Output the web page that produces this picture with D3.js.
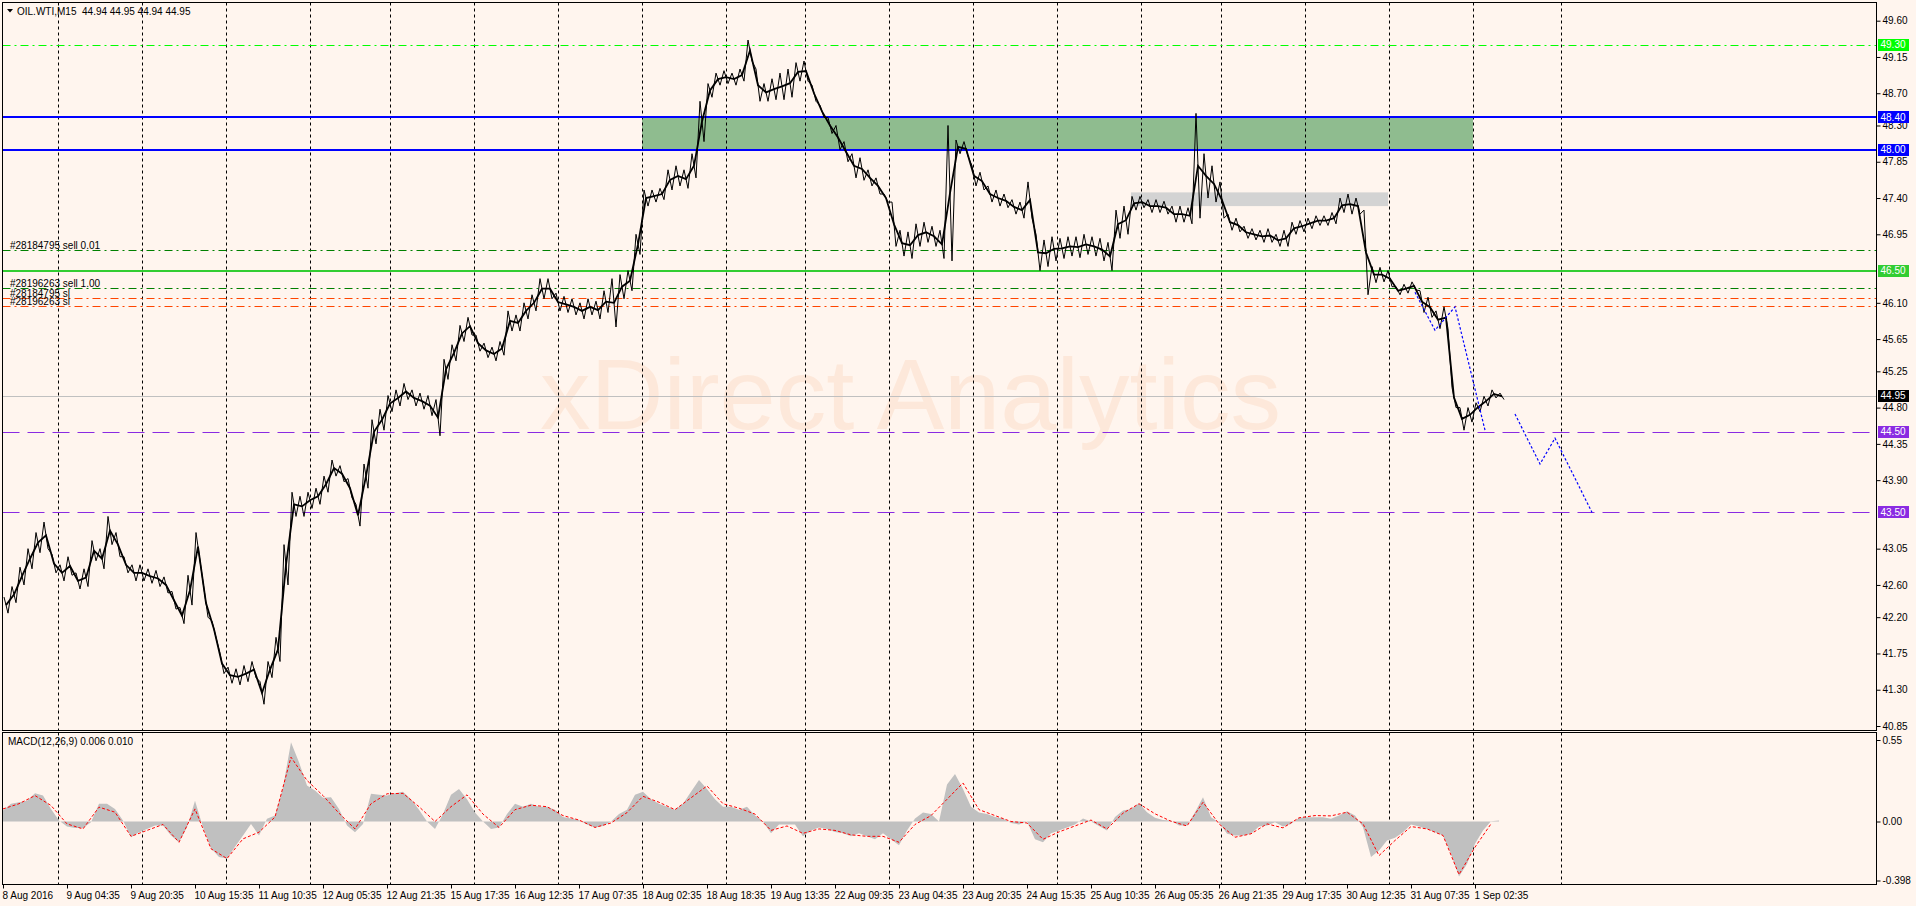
<!DOCTYPE html>
<html><head><meta charset="utf-8">
<script src="https://cdn.jsdelivr.net/npm/d3@7"></script>
<style>
html,body{margin:0;padding:0;background:#fff5ee;overflow:hidden}
svg{display:block;font-family:"Liberation Sans",Arial,sans-serif}
</style></head>
<body><svg id="c" width="1916" height="906"></svg>
<script>
// ---------- DATA ----------
const STEP = 8;            // M15 bars between samples
const priceHigh = [42.45,42.58,42.82,43.05,43.25,43.38,42.98,42.85,42.95,42.75,42.80,43.15,43.05,43.45,43.25,42.95,42.85,42.85,42.80,42.78,
42.70,42.52,42.32,42.72,43.25,42.55,42.15,41.75,41.58,41.56,41.60,41.65,41.40,41.65,41.95,43.10,43.75,43.70,43.75,43.80,
43.95,44.15,44.08,43.92,43.60,44.10,44.65,44.78,44.95,45.02,45.10,45.02,44.98,44.95,44.90,45.40,45.58,45.82,45.92,45.70,
45.60,45.55,45.62,46.00,45.95,46.10,46.20,46.40,46.40,46.22,46.18,46.15,46.10,46.15,46.12,46.25,46.40,46.45,46.50,46.95,
47.50,47.50,47.52,47.75,47.80,47.75,47.95,48.60,48.82,48.95,48.98,48.95,49.00,49.36,49.00,48.82,48.88,48.95,49.00,49.08,
49.10,48.80,48.55,48.40,48.30,48.10,47.95,47.90,47.75,47.65,47.45,47.35,47.00,46.98,47.08,47.10,47.05,47.00,48.30,48.12,
48.10,47.80,47.72,47.55,47.50,47.45,47.38,47.35,47.60,46.95,46.88,46.92,46.90,46.92,46.92,46.95,46.92,46.90,46.85,47.25,
47.30,47.42,47.42,47.38,47.38,47.36,47.30,47.30,47.28,48.45,47.95,47.80,47.60,47.20,47.15,47.05,47.02,47.00,47.02,46.95,
47.00,47.10,47.12,47.15,47.18,47.18,47.22,47.40,47.45,47.40,47.25,46.55,46.54,46.50,46.30,46.33,46.36,46.25,46.17,46.00,
46.05,45.05,44.80,44.80,44.86,44.94,45.02,44.98];
const priceLow = [42.25,42.38,42.60,42.80,43.00,43.05,42.75,42.65,42.72,42.55,42.58,42.90,42.80,43.10,42.95,42.75,42.65,42.65,42.62,42.58,
42.50,42.30,42.12,42.35,42.90,42.20,41.95,41.50,41.38,41.36,41.40,41.45,41.12,41.45,41.65,42.60,43.45,43.45,43.55,43.60,
43.75,43.95,43.88,43.68,43.33,43.80,44.35,44.52,44.75,44.82,44.90,44.82,44.78,44.70,44.45,45.15,45.38,45.62,45.70,45.50,
45.42,45.38,45.45,45.75,45.75,45.90,46.00,46.15,46.15,46.00,45.98,45.95,45.90,45.95,45.90,45.98,45.80,46.15,46.25,46.70,
47.30,47.35,47.38,47.50,47.55,47.52,47.65,48.10,48.65,48.80,48.82,48.80,48.85,49.10,48.60,48.60,48.62,48.62,48.65,48.85,
48.85,48.60,48.40,48.20,48.00,47.85,47.65,47.62,47.55,47.45,47.35,46.80,46.68,46.65,46.80,46.85,46.80,46.65,46.62,47.95,
47.92,47.55,47.50,47.35,47.30,47.28,47.20,47.15,47.15,46.50,46.55,46.62,46.65,46.68,46.66,46.70,46.68,46.62,46.50,46.90,
46.95,47.25,47.28,47.22,47.22,47.20,47.10,47.10,47.08,47.15,47.40,47.35,47.15,47.00,46.98,46.90,46.88,46.85,46.85,46.80,
46.80,46.95,46.98,47.02,47.06,47.06,47.08,47.22,47.20,47.20,46.20,46.35,46.36,46.30,46.20,46.22,46.26,45.98,45.92,45.78,
45.78,44.80,44.52,44.62,44.75,44.82,44.92,44.90];
const macdHist = [0.074,0.12,0.13,0.14,0.19,0.175,0.085,0.007,-0.034,-0.043,-0.043,-0.005,0.12,0.12,0.085,0.007,-0.106,-0.072,-0.05,-0.027,
-0.027,-0.094,-0.14,-0.038,0.14,-0.038,-0.18,-0.24,-0.25,-0.17,-0.094,-0.016,-0.094,0.018,0.04,0.23,0.535,0.40,0.243,0.21,
0.16,0.164,0.085,-0.027,-0.072,-0.016,0.187,0.18,0.175,0.19,
0.2,0.15,0.08,0.0,-0.05,0.05,0.18,0.22,0.15,0.06,0.0,-0.05,-0.04,0.05,0.12,0.1,0.12,0.1,0.1,0.08,
0.03,0.02,0.01,-0.02,-0.04,-0.03,0.0,0.05,0.08,0.18,0.2,0.15,0.12,0.1,0.08,0.12,0.2,0.28,0.22,0.15,
0.1,0.1,0.08,0.1,0.04,0.0,-0.08,-0.02,-0.02,-0.02,-0.1,-0.06,-0.04,-0.05,-0.07,-0.08,-0.1,-0.08,-0.1,-0.12,
-0.08,-0.12,-0.16,-0.06,0.02,0.06,0.05,0.0,0.25,0.32,0.22,0.1,0.06,0.05,0.03,0.02,-0.01,-0.02,0.0,-0.12,
-0.14,-0.08,-0.06,-0.04,-0.02,0.02,0.0,-0.03,
-0.06,0.03,0.074,0.085,0.124,0.063,0.025,0.011,0.007,-0.027,-0.027,0.063,0.164,0.029,-0.005,-0.083,-0.094,-0.094,-0.083,-0.034,
-0.027,-0.005,-0.034,-0.016,0.025,0.029,0.029,0.029,0.018,0.04,0.07,0.04,-0.038,-0.24,-0.196,-0.128,-0.11,-0.072,-0.02,-0.034,
-0.05,-0.072,-0.094,-0.218,-0.371,-0.286,-0.15,-0.06,0.002,0.007];
const SIG_STEP = 16;
const macdSignal = [0.085,0.12,0.175,0.108,-0.016,-0.05,0.097,0.063,-0.1,-0.06,-0.02,-0.14,0.085,-0.184,-0.25,-0.117,-0.072,0.03,0.434,0.277,
0.175,0.056,-0.05,0.12,0.187,
0.19,0.1,0.0,0.1,0.18,0.05,-0.04,0.08,0.11,0.1,0.04,0.01,-0.04,-0.01,0.06,0.17,0.13,0.08,0.16,0.24,
0.12,0.09,0.05,-0.06,-0.03,-0.08,-0.05,-0.06,-0.09,-0.1,-0.1,-0.14,-0.02,0.04,0.15,0.26,0.08,0.04,0.0,-0.01,
-0.12,-0.07,-0.03,0.01,
-0.05,0.056,0.12,0.052,0.002,-0.03,0.13,-0.016,-0.106,-0.083,-0.016,-0.043,0.025,0.04,0.038,0.063,-0.016,-0.23,-0.128,-0.034,
-0.05,-0.094,-0.358,-0.173,-0.016];
const timeLabels = ["8 Aug 2016","9 Aug 04:35","9 Aug 20:35","10 Aug 15:35","11 Aug 10:35","12 Aug 05:35","12 Aug 21:35","15 Aug 17:35",
"16 Aug 12:35","17 Aug 07:35","18 Aug 02:35","18 Aug 18:35","19 Aug 13:35","22 Aug 09:35","23 Aug 04:35","23 Aug 20:35",
"24 Aug 15:35","25 Aug 10:35","26 Aug 05:35","26 Aug 21:35","29 Aug 17:35","30 Aug 12:35","31 Aug 07:35","1 Sep 02:35"];
const BARS_PER_LABEL = 64;
const gridBars = [55,139,223,307,387,471,555,639,723,802,886,970,1054,1138,1218,1302,1386,1470,1558];
const priceTicks = [49.60,49.15,48.70,48.30,47.85,47.40,46.95,46.10,45.65,45.25,44.80,44.35,43.90,43.05,42.60,42.20,41.75,41.30,40.85];
const macdTicks = [0.55,0.00,-0.398];
const levels = [
  {price:49.30, kind:"lime"},
  {price:48.40, kind:"blue"},
  {price:48.00, kind:"blue"},
  {price:46.76, kind:"order", text:"#28184795 sell 0.01"},
  {price:46.50, kind:"green"},
  {price:46.29, kind:"order", text:"#28196263 sell 1.00"},
  {price:46.156, kind:"sl", text:"#28184795 sl"},
  {price:46.057, kind:"sl", text:"#28196263 sl"},
  {price:44.95, kind:"bid"},
  {price:44.50, kind:"purple"},
  {price:43.50, kind:"purple"}
];
const zoneGreen = {bar0:639, bar1:1470, p0:48.40, p1:48.00};
const zoneGray  = {bar0:1128, bar1:1385, p0:47.47, p1:47.30};
const forecastA = [[1412,46.23],[1432,45.76],[1452,46.05],[1482,44.52]];
const forecastB = [[1512,44.72],[1537,44.10],[1552,44.42],[1589,43.50]];
const symbolText = "OIL.WTI,M15  44.94 44.95 44.94 44.95";
const macdText = "MACD(12,26,9) 0.006 0.010";

// ---------- LAYOUT ----------
const L = 2.5, R = 1876.5, MT = 2.5, MB = 730.5, ST = 732.5, SB = 884.5;
const svg = d3.select("#c");
const x = d3.scaleLinear().domain([0, 1873]).range([3, 1876]);
const y = d3.scaleLinear().domain([40.85, 49.60]).range([726, 20.7]);
const ym = d3.scaleLinear().domain([-0.398, 0.55]).range([880.5, 740]);

svg.append("rect").attr("width",1916).attr("height",906).attr("fill","#fff5ee");

// watermark
svg.append("text").attr("x",540).attr("y",429).attr("font-size",101).attr("fill","#fde8da")
  .attr("font-family","Liberation Sans, Arial").text("xDirect Analytics");

const defs = svg.append("defs");
defs.append("clipPath").attr("id","cm").append("rect").attr("x",L).attr("y",MT).attr("width",R-L).attr("height",MB-MT);
defs.append("clipPath").attr("id","cs").append("rect").attr("x",L).attr("y",ST).attr("width",R-L).attr("height",SB-ST);

const gm = svg.append("g").attr("clip-path","url(#cm)");
const gs = svg.append("g").attr("clip-path","url(#cs)");

// zones
gm.append("rect").attr("x",x(zoneGreen.bar0)).attr("width",x(zoneGreen.bar1)-x(zoneGreen.bar0))
  .attr("y",y(zoneGreen.p0)).attr("height",y(zoneGreen.p1)-y(zoneGreen.p0)).attr("fill","#8fbc8f");
gm.append("rect").attr("x",x(zoneGray.bar0)).attr("width",x(zoneGray.bar1)-x(zoneGray.bar0))
  .attr("y",y(zoneGray.p0)).attr("height",y(zoneGray.p1)-y(zoneGray.p0)).attr("fill","#d3d3d3");

// grid
gridBars.forEach(b=>{
  const gx = Math.round(x(b))+0.5;
  gm.append("line").attr("x1",gx).attr("x2",gx).attr("y1",MT).attr("y2",MB).attr("stroke","#000").attr("stroke-dasharray","3,3");
  gs.append("line").attr("x1",gx).attr("x2",gx).attr("y1",ST).attr("y2",SB).attr("stroke","#000").attr("stroke-dasharray","3,3");
});

// level lines
const styles = {
  lime:{c:"#00ff00",w:1,d:"8,4,2,4",bg:"#00ff00"},
  blue:{c:"#0000ff",w:2,d:null,bg:"#0000ff"},
  green:{c:"#32cd32",w:2,d:null,bg:"#32cd32"},
  order:{c:"#008000",w:1,d:"8,4,2,4"},
  sl:{c:"#ff4500",w:1,d:"8,4,2,4"},
  bid:{c:"#c0c0c0",w:1,d:null,bg:"#000000"},
  purple:{c:"#8a2be2",w:1,d:"17,8",bg:"#8a2be2"}
};
levels.forEach(l=>{
  const s = styles[l.kind];
  const ly = Math.round(y(l.price)) + (s.w===1?0.5:0);
  const ln = gm.append("line").attr("x1",L).attr("x2",R).attr("y1",ly).attr("y2",ly).attr("stroke",s.c).attr("stroke-width",s.w);
  if (s.d) ln.attr("stroke-dasharray",s.d);
  if (l.text) gm.append("text").attr("x",10).attr("y",ly-2).attr("font-size",10).attr("fill","#000").text(l.text);
});

// price: jagged high/low trace plus a mid line
const pts = [];
priceHigh.forEach((h,k)=>{
  pts.push([x(k*STEP+1), y(h)]);
  pts.push([x(k*STEP+5), y(priceLow[k])]);
});
gm.append("path").attr("d", d3.line()(pts)).attr("fill","none").attr("stroke","#000").attr("stroke-width",1);
gm.append("path").attr("d", d3.line().x((d,k)=>x(k*STEP+3)).y((d,k)=>y((d+priceLow[k])/2))(priceHigh))
  .attr("fill","none").attr("stroke","#000").attr("stroke-width",1.8);

// forecast
[forecastA, forecastB].forEach(f=>{
  gm.append("path").attr("d", d3.line().x(d=>x(d[0])).y(d=>y(d[1]))(f))
    .attr("fill","none").attr("stroke","#0000ff").attr("stroke-width",1.2).attr("stroke-dasharray","2.5,2");
});

// MACD
gs.append("path").attr("d", d3.area().x((d,i)=>x(i*STEP)).y0(ym(0)).y1(d=>ym(d))(macdHist)).attr("fill","#c0c0c0");
gs.append("path").attr("d", d3.line().x((d,i)=>x(i*SIG_STEP)).y(d=>ym(d))(macdSignal))
  .attr("fill","none").attr("stroke","#ff0000").attr("stroke-width",1).attr("stroke-dasharray","3,2");

// frames
svg.append("rect").attr("x",L).attr("y",MT).attr("width",R-L).attr("height",MB-MT).attr("fill","none").attr("stroke","#000");
svg.append("rect").attr("x",L).attr("y",ST).attr("width",R-L).attr("height",SB-ST).attr("fill","none").attr("stroke","#000");

// right price axis
const ay = svg.append("g").attr("transform",`translate(${R},0)`)
  .call(d3.axisRight(y).tickValues(priceTicks).tickSize(4).tickPadding(2).tickFormat(d3.format(".2f")));
ay.select(".domain").remove();
ay.selectAll("text").attr("font-size",10).attr("fill","#000").attr("font-family","Liberation Sans, Arial");
ay.selectAll("line").attr("stroke","#000");

// level labels on axis
levels.filter(l=>styles[l.kind].bg).forEach(l=>{
  const ly = y(l.price);
  svg.append("rect").attr("x",R+1.5).attr("y",Math.round(ly)-6).attr("width",31).attr("height",12).attr("fill",styles[l.kind].bg);
  svg.append("text").attr("x",R+4).attr("y",ly).attr("dy","0.35em").attr("font-size",10).attr("fill","#fff").text(l.price.toFixed(2));
});

// MACD axis
const am = svg.append("g").attr("transform",`translate(${R},0)`)
  .call(d3.axisRight(ym).tickValues(macdTicks).tickSize(4).tickPadding(2).tickFormat(d=>d===-0.398?"-0.398":d3.format(".2f")(d)));
am.select(".domain").remove();
am.selectAll("text").attr("font-size",10).attr("fill","#000");
am.selectAll("line").attr("stroke","#000");

// time axis
const labelBars = timeLabels.map((t,i)=>i*BARS_PER_LABEL);
const ax = svg.append("g").attr("transform",`translate(0,${SB})`)
  .call(d3.axisBottom(x).tickValues(labelBars).tickSize(4).tickPadding(3).tickFormat((d,i)=>timeLabels[i]));
ax.select(".domain").remove();
ax.selectAll("text").attr("font-size",10).attr("fill","#000").attr("text-anchor","start").attr("dx",-1);
ax.selectAll("line").attr("stroke","#000");

// titles
svg.append("path").attr("d","M7,9 L13,9 L10,12.5 Z").attr("fill","#000");
svg.append("text").attr("x",17).attr("y",15).attr("font-size",10).attr("fill","#000").attr("xml:space","preserve").text(symbolText);
svg.append("text").attr("x",8).attr("y",745).attr("font-size",10).attr("fill","#000").text(macdText);
</script>
</body></html>
